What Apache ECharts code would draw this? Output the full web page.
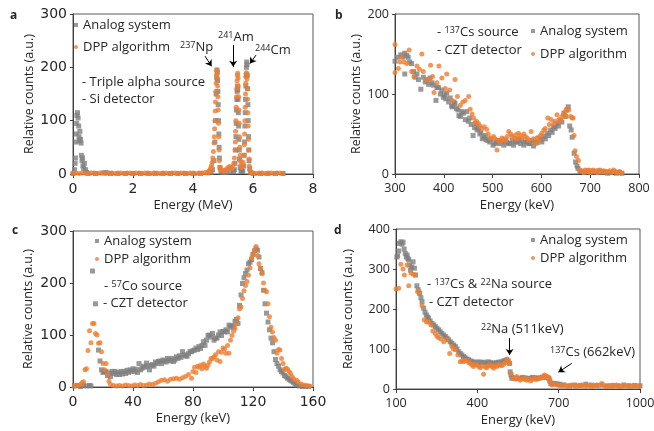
<!DOCTYPE html>
<html>
<head>
<meta charset="utf-8">
<script src="https://cdn.jsdelivr.net/npm/echarts@6/dist/echarts.min.js"></script>
<style>
body { margin: 0; background: #fff; }
#chart { width: 654px; height: 431px; }
</style>
</head>
<body>
<div id="chart"></div>
<script>
// panel a - triple alpha source, Si detector (MeV)
const aAnalog = [
  [0.0, 1], [0.05, 8], [0.07, 20], [0.08, 30], [0.1, 60], [0.11, 75], [0.12, 95], [0.13, 110],
  [0.15, 115], [0.17, 105], [0.19, 90], [0.2, 70], [0.21, 62], [0.23, 80], [0.25, 65], [0.27, 58],
  [0.28, 35], [0.3, 25], [0.32, 30], [0.33, 15], [0.36, 10], [0.38, 20], [0.42, 8], [0.46, 3],
  [0.5, 1], [0.75, 1], [1.0, 2], [1.1, 3], [1.25, 1], [1.5, 1], [1.75, 1], [2.0, 1], [2.25, 1],
  [2.5, 1], [2.75, 1], [3.0, 1], [3.25, 1], [3.5, 1], [3.75, 1], [4.0, 1], [4.25, 1], [4.5, 2],
  [4.6, 3], [4.65, 8], [4.7, 25], [4.73, 60], [4.75, 100], [4.77, 150], [4.79, 180], [4.8, 195],
  [4.81, 190], [4.82, 175], [4.83, 155], [4.84, 130], [4.85, 100], [4.86, 75], [4.87, 50],
  [4.88, 30], [4.9, 12], [4.93, 4], [5.0, 3], [5.1, 3], [5.25, 4], [5.35, 5],
  [5.38, 8], [5.4, 20], [5.42, 45], [5.43, 70], [5.44, 95], [5.45, 120], [5.46, 140], [5.47, 155],
  [5.48, 165], [5.49, 158], [5.5, 140], [5.51, 115], [5.52, 90], [5.53, 65], [5.54, 45], [5.55, 28],
  [5.57, 12], [5.6, 5], [5.63, 6], [5.66, 5], [5.69, 15], [5.71, 35], [5.72, 60], [5.73, 90],
  [5.74, 115], [5.75, 140], [5.76, 165], [5.77, 185], [5.78, 200], [5.79, 210], [5.8, 205],
  [5.81, 185], [5.82, 160], [5.83, 130], [5.84, 100], [5.85, 70], [5.86, 45], [5.87, 25],
  [5.89, 10], [5.92, 3], [6.0, 1], [6.25, 1], [6.5, 1], [6.75, 1], [7.0, 1]
];
const aDpp = [
  [0.0, 2], [0.1, 2], [0.2, 1], [0.3, 2], [0.4, 2], [0.5, 1], [0.6, 2], [0.7, 2], [0.8, 1],
  [0.9, 2], [1.0, 2], [1.1, 1], [1.2, 2], [1.3, 2], [1.4, 1], [1.5, 2], [1.6, 2], [1.7, 1],
  [1.8, 2], [1.9, 2], [2.0, 1], [2.1, 2], [2.2, 2], [2.3, 1], [2.4, 2], [2.5, 2], [2.6, 1],
  [2.7, 2], [2.8, 2], [2.9, 1], [3.0, 2], [3.1, 2], [3.2, 1], [3.3, 2], [3.4, 2], [3.5, 1],
  [3.6, 2], [3.7, 2], [3.8, 1], [3.9, 2], [4.0, 2], [4.1, 1], [4.2, 2], [4.3, 2], [4.4, 3],
  [4.5, 3], [4.52, 4], [4.54, 5], [4.56, 7], [4.58, 9], [4.6, 12], [4.62, 16], [4.64, 22],
  [4.66, 30], [4.68, 42], [4.7, 58], [4.71, 70], [4.72, 85], [4.73, 100], [4.74, 118], [4.75, 135],
  [4.76, 155], [4.77, 170], [4.78, 185], [4.79, 195], [4.8, 192], [4.81, 180], [4.82, 165],
  [4.83, 145], [4.84, 120], [4.85, 95], [4.86, 70], [4.87, 45], [4.88, 25], [4.9, 12], [4.92, 8],
  [4.94, 8], [4.98, 6], [5.02, 5], [5.06, 7], [5.1, 8], [5.14, 10], [5.18, 12], [5.22, 14],
  [5.26, 12], [5.3, 10], [5.33, 14], [5.36, 20], [5.38, 30], [5.4, 45], [5.41, 60], [5.42, 80],
  [5.43, 100], [5.44, 125], [5.45, 145], [5.46, 160], [5.47, 175], [5.48, 185], [5.49, 189],
  [5.5, 180], [5.51, 165], [5.52, 145], [5.53, 120], [5.54, 95], [5.55, 70], [5.56, 50], [5.57, 35],
  [5.58, 25], [5.6, 18], [5.62, 12], [5.64, 14], [5.65, 15], [5.67, 22], [5.69, 35], [5.71, 55],
  [5.72, 75], [5.73, 100], [5.74, 125], [5.75, 150], [5.76, 170], [5.77, 182], [5.78, 190],
  [5.79, 188], [5.8, 178], [5.81, 160], [5.82, 140], [5.83, 115], [5.84, 90], [5.85, 65],
  [5.86, 45], [5.87, 28], [5.88, 15], [5.9, 6], [5.93, 3], [6.0, 2], [6.1, 1], [6.2, 2], [6.3, 2],
  [6.4, 1], [6.5, 2], [6.6, 2], [6.7, 1], [6.8, 2], [6.9, 2], [7.0, 1]
];

// panel b - 137Cs source, CZT detector (keV)
const bAnalog = [
  [300, 141], [305, 146], [312, 149], [316, 146], [320, 151], [320, 125], [324, 148], [327, 146],
  [330, 140], [334, 138], [338, 128], [341, 121], [345, 125], [348, 118], [353, 106], [358, 121],
  [362, 115], [365, 118], [369, 112], [372, 120], [376, 114], [379, 111], [384, 92], [386, 108],
  [389, 108], [393, 100], [396, 105], [399, 96], [401, 99], [404, 94], [406, 101], [410, 90],
  [413, 95], [416, 85], [418, 84], [421, 90], [423, 88], [426, 82], [429, 80], [431, 73],
  [434, 72], [437, 78], [440, 76], [444, 68], [447, 78], [450, 66], [453, 70], [456, 62],
  [460, 48], [463, 58], [466, 63], [468, 55], [471, 57], [474, 50], [476, 52], [479, 44],
  [482, 46], [485, 48], [487, 43], [490, 42], [494, 40], [497, 44], [501, 36], [504, 38],
  [508, 40], [511, 42], [514, 38], [518, 40], [523, 36], [526, 42], [529, 40], [532, 38],
  [536, 38], [540, 42], [543, 36], [547, 40], [550, 40], [553, 44], [557, 38], [560, 42],
  [564, 36], [567, 40], [571, 40], [574, 38], [577, 38], [581, 42], [584, 35], [588, 40],
  [591, 39], [595, 45], [598, 43], [601, 40], [605, 47], [608, 44], [612, 51], [615, 48],
  [619, 55], [622, 52], [625, 59], [628, 57], [632, 63], [635, 60], [639, 67], [642, 65],
  [646, 76], [649, 72], [652, 80], [655, 84], [658, 60], [661, 55], [663, 46], [667, 26],
  [670, 15], [673, 10], [675, 7], [679, 3], [682, 3], [688, 2], [694, 4], [700, 2], [706, 3],
  [712, 2], [718, 4], [724, 2], [730, 3], [736, 1], [742, 2], [748, 3], [754, 1], [760, 2], [765, 1]
];
const bDpp = [
  [300, 162], [300, 127], [307, 132], [310, 140], [313, 147], [318, 140], [324, 138], [329, 155],
  [334, 128], [339, 122], [345, 135], [350, 131], [355, 150], [358, 128], [364, 118], [369, 118],
  [373, 136], [377, 122], [380, 102], [386, 114], [390, 135], [396, 120], [403, 107], [406, 125],
  [412, 105], [417, 92], [423, 118], [428, 97], [434, 86], [439, 90], [444, 92], [451, 97],
  [454, 81], [458, 75], [461, 70], [464, 64], [467, 66], [471, 63], [474, 60], [478, 57],
  [483, 59], [488, 56], [491, 50], [495, 45], [502, 47], [505, 44], [509, 30], [512, 42],
  [516, 40], [519, 45], [523, 44], [526, 42], [530, 47], [533, 53], [537, 50], [540, 47],
  [544, 45], [547, 49], [550, 44], [553, 51], [557, 48], [560, 45], [564, 50], [567, 47],
  [571, 45], [574, 42], [579, 53], [584, 44], [588, 38], [591, 45], [595, 42], [598, 48],
  [601, 51], [605, 55], [608, 57], [613, 70], [616, 62], [620, 68], [625, 63], [628, 66],
  [632, 74], [636, 68], [639, 66], [642, 72], [646, 74], [649, 78], [651, 72], [653, 82],
  [656, 80], [660, 72], [663, 70], [665, 70], [667, 48], [669, 29], [672, 22], [676, 17],
  [679, 5], [683, 4], [687, 2], [690, 5], [694, 3], [697, 5], [700, 2], [703, 4], [706, 5],
  [709, 3], [712, 4], [716, 2], [720, 5], [724, 3], [728, 4], [732, 2], [736, 3], [740, 4],
  [744, 2], [748, 5], [752, 3], [756, 2], [760, 3], [764, 1]
];

// panel c - 57Co source, CZT detector (keV)
const cAnalog = [
  [1, 2], [3, 3], [5, 1], [7, 3], [9, 2], [11, 3], [12, 2], [13, 223], [15, 160], [17, 71],
  [18, 50], [19, 33], [20, 28], [21, 30], [22, 30], [23, 22], [24, 27], [25, 20], [26, 30],
  [27, 26], [28, 30], [29, 24], [30, 28], [31, 24], [32, 30], [33, 25], [34, 30], [35, 26],
  [36, 32], [37, 28], [38, 33], [39, 30], [40, 35], [41, 30], [42, 34], [43, 28], [44, 45],
  [45, 33], [46, 36], [47, 40], [48, 38], [49, 46], [50, 40], [51, 33], [52, 42], [53, 43],
  [54, 40], [55, 48], [56, 45], [57, 49], [58, 50], [59, 45], [60, 52], [61, 50], [62, 48],
  [63, 55], [64, 52], [65, 50], [66, 55], [67, 49], [68, 52], [69, 58], [70, 55], [71, 60],
  [72, 57], [73, 68], [74, 62], [75, 60], [76, 59], [77, 64], [78, 68], [79, 68], [80, 70],
  [81, 71], [82, 75], [83, 72], [84, 78], [85, 74], [86, 80], [87, 87], [88, 80], [89, 90],
  [90, 99], [91, 100], [92, 96], [93, 103], [94, 90], [95, 94], [96, 94], [97, 100], [98, 106],
  [99, 99], [100, 107], [101, 106], [102, 110], [103, 106], [104, 119], [105, 115], [106, 118],
  [107, 115], [108, 126], [109, 130], [110, 122], [111, 157], [112, 177], [113, 199], [114, 210],
  [115, 218], [116, 225], [117, 237], [118, 240], [119, 245], [120, 255], [121, 262], [122, 266],
  [123, 263], [124, 250], [125, 228], [126, 220], [127, 186], [128, 160], [129, 142], [130, 125],
  [131, 110], [132, 94], [133, 85], [134, 68], [135, 53], [136, 45], [137, 40], [138, 33],
  [139, 30], [140, 27], [141, 22], [142, 20], [143, 17], [144, 15], [145, 13], [146, 11],
  [147, 9], [148, 6], [149, 4], [151, 2], [153, 1], [155, 1], [157, 1]
];
const cDpp = [
  [1, 2], [3, 3], [5, 5], [6, 8], [7, 10], [8, 33], [9, 35], [10, 70], [11, 108], [12, 85],
  [13, 122], [14, 122], [15, 103], [16, 100], [17, 84], [18, 85], [19, 68], [20, 45], [21, 33],
  [22, 45], [23, 24], [24, 11], [25, 5], [27, 3], [29, 2], [31, 3], [33, 2], [35, 4], [37, 3],
  [39, 2], [41, 4], [43, 3], [45, 5], [47, 3], [49, 4], [51, 6], [53, 5], [55, 7], [57, 10],
  [59, 13], [61, 14], [63, 11], [65, 15], [67, 16], [69, 17], [71, 15], [73, 18], [75, 20],
  [77, 24], [79, 17], [80, 30], [81, 38], [82, 28], [83, 40], [84, 38], [85, 42], [86, 35],
  [87, 44], [88, 40], [89, 36], [90, 42], [91, 48], [92, 55], [93, 55], [94, 58], [95, 62],
  [96, 52], [97, 68], [98, 49], [99, 67], [100, 75], [101, 73], [102, 65], [103, 80], [104, 65],
  [105, 90], [106, 99], [107, 107], [108, 113], [109, 122], [110, 133], [111, 150], [112, 154],
  [113, 170], [114, 185], [115, 195], [116, 203], [117, 215], [118, 229], [119, 248], [120, 255],
  [121, 262], [122, 270], [123, 253], [124, 237], [125, 228], [126, 218], [127, 200], [128, 186],
  [129, 183], [130, 160], [131, 135], [132, 115], [133, 106], [134, 95], [135, 90], [136, 65],
  [137, 72], [138, 71], [139, 55], [140, 45], [141, 34], [142, 36], [143, 34], [144, 30],
  [145, 26], [146, 20], [147, 16], [149, 13], [150, 10], [152, 6], [154, 4], [156, 3], [158, 2]
];

// panel d - 137Cs & 22Na source, CZT detector (keV)
const dAnalog = [
  [103, 330], [106, 333], [110, 345], [113, 364], [118, 368], [122, 362], [126, 367], [130, 350],
  [134, 339], [138, 330], [141, 335], [144, 326], [147, 323], [150, 310], [153, 297], [158, 305],
  [163, 318], [168, 302], [172, 285], [177, 258], [182, 248], [187, 239], [192, 228], [196, 218],
  [202, 202], [207, 192], [212, 185], [216, 180], [220, 177], [226, 170], [233, 164], [239, 160],
  [245, 156], [251, 152], [257, 148], [263, 143], [269, 139], [276, 135], [282, 131], [288, 127],
  [294, 123], [300, 118], [306, 114], [313, 110], [319, 106], [325, 100], [331, 93], [337, 89],
  [343, 85], [349, 81], [355, 78], [362, 75], [368, 73], [377, 70], [386, 68], [395, 66],
  [405, 68], [414, 66], [423, 67], [432, 65], [441, 68], [450, 66], [460, 64], [469, 66],
  [478, 67], [488, 68], [497, 70], [503, 71], [509, 73], [514, 70], [519, 64], [521, 43],
  [524, 35], [527, 27], [533, 28], [540, 27], [549, 26], [558, 27], [567, 29], [576, 28],
  [585, 26], [595, 27], [604, 29], [613, 28], [622, 27], [632, 28], [641, 30], [650, 31],
  [656, 29], [662, 27], [667, 20], [671, 14], [679, 13], [687, 14], [696, 12], [705, 12],
  [720, 10], [740, 8], [760, 10], [780, 9], [800, 12], [820, 10], [840, 9], [860, 10], [880, 8],
  [900, 9], [920, 8], [940, 10], [960, 8], [980, 9], [1000, 8]
];
const dDpp = [
  [100, 250], [110, 252], [118, 312], [126, 300], [131, 285], [141, 310], [147, 258], [155, 290],
  [163, 287], [171, 285], [180, 243], [187, 242], [196, 208], [204, 173], [212, 168], [220, 167],
  [229, 160], [236, 145], [245, 139], [251, 132], [257, 128], [266, 125], [276, 118], [288, 123],
  [298, 89], [306, 106], [312, 100], [319, 98], [328, 85], [337, 68], [343, 70], [349, 68],
  [355, 72], [362, 71], [368, 66], [374, 64], [380, 60], [386, 56], [392, 62], [398, 60],
  [405, 56], [411, 53], [417, 58], [423, 37], [429, 55], [435, 53], [441, 58], [448, 60],
  [454, 56], [460, 52], [466, 58], [472, 56], [478, 60], [484, 60], [490, 58], [497, 62],
  [503, 65], [509, 75], [514, 70], [519, 64], [524, 39], [533, 27], [540, 25], [546, 31],
  [552, 26], [558, 22], [565, 25], [573, 27], [578, 24], [583, 22], [590, 25], [597, 20],
  [604, 24], [610, 27], [616, 24], [622, 25], [630, 27], [638, 28], [643, 30], [647, 35],
  [652, 33], [656, 28], [661, 30], [666, 27], [670, 18], [675, 10], [684, 12], [694, 10],
  [703, 9], [712, 8], [721, 10], [730, 6], [739, 8], [748, 10], [758, 8], [767, 6], [776, 9],
  [785, 10], [795, 7], [804, 8], [813, 9], [822, 6], [831, 8], [840, 10], [850, 9], [859, 14],
  [868, 8], [877, 6], [887, 9], [896, 6], [905, 8], [914, 10], [924, 7], [933, 6], [942, 8],
  [951, 8], [960, 9], [969, 6], [979, 8], [988, 8], [998, 6]
];

// axis ticks
const aTicks = { xMin: 0, xMax: 8, xStep: 2, yMax: 300, yStep: 100 };
const bTicks = { xMin: 300, xMax: 800, xStep: 100, yMax: 200, yStep: 100 };
const cTicks = { xMin: 0, xMax: 160, xStep: 40, yMax: 300, yStep: 100 };
const dTicks = { xMin: 100, xMax: 1000, xStep: 300, yMax: 400, yStep: 100 };
const dXLabels = [100, 400, 700, 1000];

const FONT = 'Open Sans';
const GRAY = '#7f7f7f';
const ORANGE = '#ed7d31';
const AXIS = '#404040';
const TEXT = '#262626';

const grids = [
  { left: 73, top: 14, width: 240, height: 160 },
  { left: 395, top: 14, width: 244, height: 160 },
  { left: 73, top: 231, width: 240, height: 156 },
  { left: 396, top: 229, width: 244, height: 160 }
];
const ticks = [aTicks, bTicks, cTicks, dTicks];
const xNames = ['Energy (MeV)', 'Energy (keV)', 'Energy (keV)', 'Energy (keV)'];
const yGaps = [37, 32, 38, 41];
// left panels have wider tick digits than right ones
const tickFonts = [
  { fontFamily: 'DejaVu Sans', fontSize: 14 },
  { fontFamily: FONT, fontSize: 12.5 },
  { fontFamily: 'DejaVu Sans', fontSize: 14 },
  { fontFamily: FONT, fontSize: 12.5 }
];

function xAxis(i) {
  const t = ticks[i];
  const ax = {
    gridIndex: i, type: 'value', min: t.xMin, max: t.xMax, interval: t.xStep,
    name: xNames[i], nameLocation: 'middle', nameGap: 25, nameMoveOverlap: false,
    nameTextStyle: { fontFamily: FONT, fontSize: 13, color: TEXT },
    axisLine: { show: true, lineStyle: { color: AXIS } },
    axisTick: { show: true, length: 4, lineStyle: { color: AXIS } },
    axisLabel: Object.assign({ color: TEXT, margin: 8, showMaxLabel: true,
      formatter: v => String(v) }, tickFonts[i]),
    splitLine: { show: false }
  };
  if (i === 3) {
    ax.axisLabel.customValues = dXLabels;
    ax.axisTick.customValues = dXLabels;
  }
  return ax;
}
function yAxis(i) {
  const t = ticks[i];
  return {
    gridIndex: i, type: 'value', min: 0, max: t.yMax, interval: t.yStep,
    name: 'Relative counts (a.u.)', nameLocation: 'middle', nameGap: yGaps[i],
    nameMoveOverlap: false,
    nameTextStyle: { fontFamily: FONT, fontSize: 12.5, color: TEXT },
    axisLine: { show: true, lineStyle: { color: AXIS } },
    axisTick: { show: true, length: 3, lineStyle: { color: AXIS } },
    axisLabel: Object.assign({ color: TEXT, margin: 6 }, tickFonts[i]),
    splitLine: { show: false }
  };
}

const arrowStyle = {
  silent: true, symbol: ['none', 'arrow'], symbolSize: 6,
  lineStyle: { color: '#000', width: 1, type: 'solid' },
  label: { show: false }, animation: false
};

function scatter(name, i, data, markLine) {
  const s = {
    name: name, type: 'scatter', xAxisIndex: i, yAxisIndex: i, data: data,
    symbol: name === 'Analog system' ? 'rect' : 'circle', symbolSize: 5,
    itemStyle: { color: name === 'Analog system' ? GRAY : ORANGE },
    silent: true
  };
  if (markLine) s.markLine = Object.assign({ data: markLine }, arrowStyle);
  return s;
}

function legend(left, top, gap) {
  return {
    orient: 'vertical', left: left, top: top, padding: 0, itemGap: gap,
    itemWidth: 4, itemHeight: 4, selectedMode: false,
    textStyle: { fontFamily: FONT, fontSize: 13, color: TEXT, lineHeight: 16 },
    data: [{ name: 'Analog system', icon: 'rect' }, { name: 'DPP algorithm', icon: 'circle' }]
  };
}

const rich = { s: { fontSize: 9, fontFamily: FONT, color: TEXT, verticalAlign: 'top' } };
function label(x, y, text, opts) {
  return {
    type: 'text', x: x, y: y, z: 50,
    style: Object.assign({
      text: text, fill: TEXT, fontFamily: FONT, fontSize: 13,
      verticalAlign: 'middle', rich: rich
    }, opts || {})
  };
}

const myChart = echarts.init(document.getElementById('chart'));
myChart.setOption({
  animation: false,
  backgroundColor: '#fff',
  grid: grids.map(g => Object.assign({ show: true, borderColor: '#595959', borderWidth: 1, outerBoundsMode: 'none' }, g)),
  xAxis: [0, 1, 2, 3].map(xAxis),
  yAxis: [0, 1, 2, 3].map(yAxis),
  legend: [legend(74, 17, 6), legend(531, 23, 7), legend(95, 233, 2), legend(531, 232, 2)],
  series: [
    scatter('Analog system', 0, aAnalog),
    scatter('DPP algorithm', 0, aDpp, [
      [{ coord: [4.4, 221] }, { coord: [4.62, 202] }],
      [{ coord: [5.34, 242] }, { coord: [5.34, 201] }],
      [{ coord: [6.1, 223] }, { coord: [5.9, 207] }]
    ]),
    scatter('Analog system', 1, bAnalog),
    scatter('DPP algorithm', 1, bDpp),
    scatter('Analog system', 2, cAnalog),
    scatter('DPP algorithm', 2, cDpp),
    scatter('Analog system', 3, dAnalog),
    scatter('DPP algorithm', 3, dDpp, [
      [{ coord: [519, 127] }, { coord: [519, 85] }],
      [{ coord: [748, 64] }, { coord: [699, 42] }]
    ])
  ],
  graphic: [
    label(10, 16, 'a', { fontWeight: 'bold', fontSize: 12 }),
    label(335, 16, 'b', { fontWeight: 'bold', fontSize: 12 }),
    label(12, 231, 'c', { fontWeight: 'bold', fontSize: 12 }),
    label(334, 231, 'd', { fontWeight: 'bold', fontSize: 12 }),
    label(180, 47, '{s|237}Np'),
    label(218, 37, '{s|241}Am'),
    label(255, 50, '{s|244}Cm'),
    label(82, 82, '- Triple alpha source'),
    label(82, 99, '- Si detector'),
    label(437, 32, '- {s|137}Cs source'),
    label(437, 50, '- CZT detector'),
    label(104, 286, '- {s|57}Co source'),
    label(103, 303, '- CZT detector'),
    label(427, 284, '- {s|137}Cs & {s|22}Na source'),
    label(429, 302, '- CZT detector'),
    label(481, 329, '{s|22}Na (511keV)'),
    label(550, 352, '{s|137}Cs (662keV)')
  ]
});
</script>
</body>
</html>
